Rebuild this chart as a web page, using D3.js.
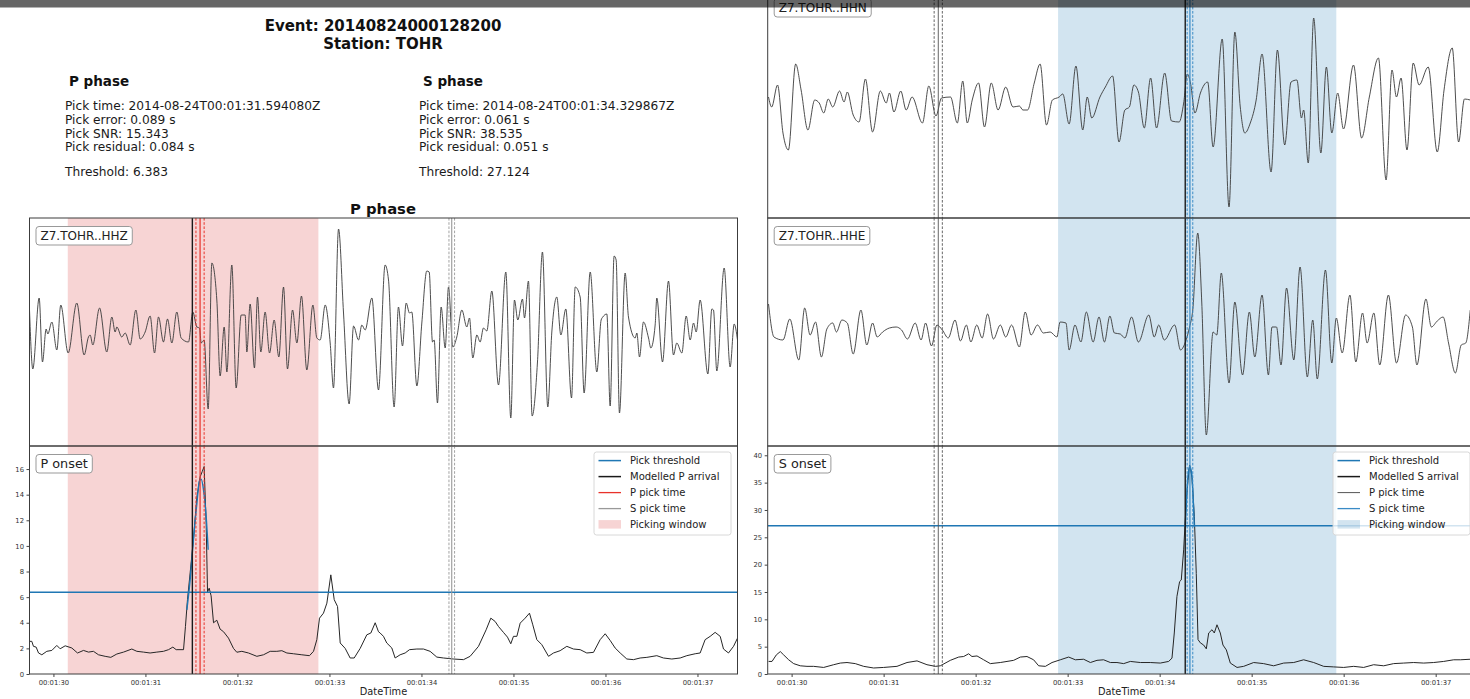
<!DOCTYPE html>
<html>
<head>
<meta charset="utf-8">
<script src="https://cdn.jsdelivr.net/npm/d3@7"></script>
<style>
body { margin: 0; background: #fff; }
text { font-family: "DejaVu Sans", sans-serif; }
</style>
</head>
<body>
<div id="chart"></div>
<script>
// ---- data (times are seconds after 2014-08-24T00:01:30Z) ----
var eventId = "20140824000128200";
var station = "TOHR";
var phaseNames = ["P", "S"];
var pickTimes = [1.594080, 4.329867];
var pickErrors = [0.089, 0.061];
var pickSNR = [15.343, 38.535];
var pickResiduals = [0.084, 0.051];
var thresholds = [6.383, 27.124];
var pickWindows = [[0.156, 2.88], [2.896, 5.92]];
var timeDomain = [-0.26, 7.435];
var channels = ["Z7.TOHR..HHZ", "Z7.TOHR..HHN", "Z7.TOHR..HHE"];
var pOnsetTicks = [0, 2, 4, 6, 8, 10, 12, 14, 16];
var sOnsetTicks = [0, 5, 10, 15, 20, 25, 30, 35, 40];

var hhzTrace = [[-0.26,22],[-0.224,-37],[-0.155,34],[-0.119,-30],[-0.079,3],[-0.061,-2],[-0.017,10],[0.037,-18],[0.08,27],[0.16,-21],[0.254,29],[0.334,-23],[0.381,-5],[0.399,-3],[0.428,-13],[0.501,24],[0.58,-20],[0.635,15],[0.671,0],[0.689,5],[0.743,-5],[0.78,-1],[0.834,-13],[0.896,22],[0.943,-7],[0.997,0],[1.051,16],[1.099,-21],[1.142,15],[1.196,-10],[1.24,13],[1.287,-11],[1.341,20],[1.388,-6],[1.468,-10],[1.515,20],[1.559,5],[1.588,4],[1.606,-11],[1.638,-8],[1.682,-77],[1.722,69],[1.776,32],[1.812,-44],[1.856,5],[1.885,-40],[1.939,67],[1.986,-56],[2.041,17],[2.084,17],[2.102,-20],[2.138,28],[2.185,-36],[2.218,35],[2.254,-20],[2.301,20],[2.349,-21],[2.399,12],[2.45,-25],[2.501,45],[2.544,-37],[2.599,22],[2.646,-11],[2.696,36],[2.754,-38],[2.82,27],[2.863,-6],[2.899,-8],[2.954,27],[3.008,-11],[3.044,-56],[3.099,103],[3.153,19],[3.214,-72],[3.262,6],[3.316,-8],[3.352,7],[3.388,2],[3.461,34],[3.533,-58],[3.605,67],[3.642,52],[3.703,-75],[3.75,25],[3.794,-14],[3.834,29],[3.87,19],[3.895,20],[3.95,-54],[4.004,9],[4.058,61],[4.084,60],[4.12,-10],[4.138,-8],[4.174,-71],[4.214,25],[4.258,-16],[4.294,45],[4.341,-15],[4.384,-5],[4.439,22],[4.493,5],[4.522,14],[4.558,-26],[4.602,-3],[4.638,-10],[4.674,4],[4.71,1],[4.765,41],[4.837,-53],[4.917,60],[4.971,-86],[5.011,32],[5.047,12],[5.098,33],[5.12,14],[5.163,51],[5.203,-84],[5.261,-30],[5.315,80],[5.373,-75],[5.417,0],[5.471,35],[5.515,-3],[5.569,23],[5.631,-66],[5.671,45],[5.725,35],[5.768,-61],[5.834,60],[5.906,-40],[5.953,12],[5.971,15],[6.015,18],[6.051,-74],[6.094,76],[6.116,72],[6.152,-81],[6.214,59],[6.25,15],[6.323,-6],[6.341,-1],[6.37,-25],[6.413,10],[6.468,-6],[6.493,-16],[6.54,7],[6.558,34],[6.62,-30],[6.685,51],[6.739,-23],[6.775,-11],[6.83,-21],[6.877,16],[6.921,-8],[6.957,9],[6.986,0],[7.029,32],[7.113,-42],[7.156,23],[7.174,22],[7.21,-39],[7.29,64],[7.355,-35],[7.399,8],[7.435,-8]];

var hhnTrace = [[-0.251,7],[-0.217,-3],[-0.153,19],[-0.094,-29],[-0.035,-46],[0.044,40],[0.103,14],[0.177,-26],[0.251,4],[0.3,1],[0.349,-9],[0.398,5],[0.447,-3],[0.521,13],[0.57,2],[0.605,12],[0.669,-11],[0.733,-18],[0.802,25],[0.88,-28],[0.964,13],[1.028,1],[1.063,11],[1.112,-8],[1.186,13],[1.245,-6],[1.309,7],[1.422,-19],[1.491,18],[1.569,-12],[1.629,6],[1.727,7],[1.801,-19],[1.86,23],[1.909,-19],[1.963,4],[2.032,21],[2.096,-23],[2.17,21],[2.244,-6],[2.327,17],[2.406,-3],[2.475,-2],[2.514,-6],[2.564,-6],[2.637,21],[2.701,40],[2.77,-21],[2.834,4],[2.908,7],[2.947,10],[3.016,-20],[3.09,38],[3.164,-26],[3.213,7],[3.262,-14],[3.351,7],[3.41,17],[3.489,28],[3.558,-38],[3.622,-6],[3.671,-3],[3.72,19],[3.769,12],[3.833,-24],[3.902,26],[3.966,-24],[4.055,31],[4.129,-17],[4.212,-18],[4.261,1],[4.301,30],[4.335,21],[4.384,-9],[4.443,11],[4.522,22],[4.581,-43],[4.68,65],[4.754,-103],[4.817,72],[4.876,-3],[4.926,-29],[4.985,-19],[5.049,4],[5.113,50],[5.211,-68],[5.28,54],[5.359,-41],[5.428,22],[5.492,24],[5.541,-14],[5.565,-6],[5.615,-59],[5.674,86],[5.752,-49],[5.812,37],[5.871,-29],[5.935,11],[5.998,-25],[6.107,39],[6.195,-34],[6.279,7],[6.378,46],[6.461,-76],[6.525,34],[6.574,7],[6.624,26],[6.688,-46],[6.756,41],[6.82,19],[6.919,37],[7.017,-48],[7.091,14],[7.18,56],[7.249,-38],[7.313,5],[7.376,4]];

var hheTrace = [[-0.251,28],[-0.192,-5],[-0.094,-8],[-0.02,13],[0.078,-28],[0.142,24],[0.201,-3],[0.26,10],[0.324,-25],[0.383,3],[0.447,9],[0.487,0],[0.546,12],[0.605,9],[0.669,-22],[0.753,22],[0.817,-13],[0.88,9],[0.93,-5],[0.989,0],[1.063,4],[1.136,5],[1.195,2],[1.259,-7],[1.343,9],[1.407,-8],[1.456,9],[1.52,-14],[1.579,7],[1.638,2],[1.702,-6],[1.776,12],[1.835,-9],[1.899,7],[1.948,-10],[2.012,7],[2.071,-6],[2.13,18],[2.194,-7],[2.268,7],[2.327,-5],[2.391,7],[2.475,-15],[2.539,20],[2.603,-3],[2.672,7],[2.736,-1],[2.81,0],[2.883,-5],[2.918,10],[2.982,9],[3.016,-18],[3.08,7],[3.144,-10],[3.203,20],[3.277,-10],[3.341,15],[3.4,-10],[3.459,16],[3.508,-1],[3.572,-2],[3.622,-6],[3.695,15],[3.769,-10],[3.882,17],[3.941,-5],[3.99,7],[4.05,-8],[4.163,7],[4.227,-18],[4.276,-11],[4.325,5],[4.36,22],[4.414,99],[4.458,29],[4.507,-103],[4.581,0],[4.621,-3],[4.67,59],[4.754,-51],[4.817,30],[4.901,-43],[4.975,20],[5.034,-25],[5.113,37],[5.182,-43],[5.221,5],[5.27,5],[5.319,-33],[5.379,44],[5.458,-28],[5.526,65],[5.605,-45],[5.664,12],[5.713,-47],[5.802,62],[5.871,-31],[5.92,14],[5.984,-21],[6.068,37],[6.132,-30],[6.205,19],[6.255,-11],[6.328,19],[6.392,-33],[6.486,37],[6.574,-31],[6.673,17],[6.747,5],[6.796,-33],[6.894,33],[6.953,5],[7.017,11],[7.081,15],[7.14,-11],[7.214,-41],[7.278,-13],[7.327,-11],[7.376,22]];

var pOnset = [[-0.26,2.55],[-0.235,2.55],[-0.217,2.16],[-0.188,2.1],[-0.162,1.64],[-0.126,1.5],[-0.072,1.77],[-0.017,1.84],[0.037,2.23],[0.073,1.97],[0.128,2.2],[0.2,2.03],[0.262,1.64],[0.327,1.84],[0.381,1.71],[0.435,1.77],[0.49,1.5],[0.562,1.38],[0.624,1.3],[0.689,1.56],[0.762,1.71],[0.852,1.95],[0.907,1.77],[0.979,1.71],[1.051,1.64],[1.124,1.71],[1.196,1.77],[1.251,1.9],[1.298,2.1],[1.334,1.9],[1.414,1.9],[1.435,3.7],[1.457,5.8],[1.486,7.9],[1.522,10.5],[1.559,13.8],[1.595,15.4],[1.617,15.8],[1.638,16.2],[1.66,11.8],[1.675,6.4],[1.693,6.7],[1.714,6.1],[1.74,4.0],[1.776,4.2],[1.812,3.5],[1.849,3.3],[1.903,2.8],[1.957,2.0],[1.993,1.7],[2.048,1.77],[2.12,1.64],[2.211,1.38],[2.283,1.5],[2.356,1.77],[2.428,1.77],[2.483,1.82],[2.537,1.64],[2.609,1.58],[2.7,1.5],[2.783,1.43],[2.827,1.77],[2.863,2.68],[2.892,4.36],[2.935,4.75],[2.972,5.53],[3.015,7.74],[3.052,5.8],[3.088,5.27],[3.117,2.42],[3.171,2.0],[3.225,1.25],[3.269,1.25],[3.334,2.0],[3.406,3.06],[3.45,3.2],[3.497,4.0],[3.533,3.3],[3.551,3.2],[3.587,2.94],[3.623,2.42],[3.678,2.03],[3.714,1.25],[3.768,1.5],[3.823,1.64],[3.87,1.9],[3.95,1.95],[4.022,1.95],[4.094,1.77],[4.167,1.32],[4.239,1.25],[4.348,1.17],[4.457,1.12],[4.529,1.38],[4.62,2.16],[4.703,3.45],[4.754,4.36],[4.801,4.1],[4.837,3.71],[4.891,3.25],[4.935,2.88],[4.971,2.36],[5.0,2.94],[5.037,2.94],[5.073,3.97],[5.127,4.36],[5.174,4.75],[5.21,3.84],[5.254,2.68],[5.308,2.29],[5.381,1.38],[5.435,1.64],[5.507,1.82],[5.58,2.16],[5.652,1.95],[5.725,1.9],[5.797,1.64],[5.87,1.69],[5.942,2.68],[5.997,3.14],[6.051,2.62],[6.105,2.03],[6.16,1.64],[6.232,1.17],[6.305,1.12],[6.377,1.25],[6.45,1.3],[6.558,1.43],[6.63,1.25],[6.721,1.17],[6.812,1.25],[6.884,1.43],[6.975,1.58],[7.029,1.64],[7.083,2.68],[7.138,2.94],[7.192,3.25],[7.247,2.94],[7.283,1.95],[7.337,1.64],[7.392,2.16],[7.435,2.8]];

var sOnset = [[-0.25,2.3],[-0.213,2.3],[-0.166,3.5],[-0.123,4.1],[-0.087,3.5],[-0.032,2.6],[0.022,1.9],[0.094,1.5],[0.167,1.4],[0.239,1.4],[0.348,1.2],[0.457,1.7],[0.529,2.0],[0.602,2.1],[0.692,1.9],[0.783,1.4],[0.891,1.1],[1.0,1.2],[1.145,1.4],[1.254,2.1],[1.363,2.4],[1.471,1.7],[1.562,1.4],[1.616,1.5],[1.725,2.5],[1.816,3.1],[1.87,3.2],[1.924,3.7],[1.96,3.2],[2.015,3.3],[2.087,2.6],[2.16,1.9],[2.268,2.1],[2.341,2.3],[2.413,2.5],[2.486,3.1],[2.558,3.2],[2.63,2.6],[2.685,1.5],[2.758,1.4],[2.83,2.1],[2.92,2.6],[3.011,3.1],[3.084,2.6],[3.174,2.7],[3.247,2.1],[3.319,2.5],[3.391,2.6],[3.464,2.1],[3.536,2.1],[3.609,1.9],[3.681,2.3],[3.79,2.1],[3.898,2.1],[4.007,2.0],[4.098,2.3],[4.134,2.9],[4.159,7.5],[4.188,14.2],[4.217,16.9],[4.235,17.2],[4.261,22.7],[4.286,30.6],[4.308,35.4],[4.326,38.2],[4.351,36.0],[4.377,28.8],[4.398,18.4],[4.417,6.3],[4.442,5.7],[4.478,5.3],[4.507,4.6],[4.533,7.5],[4.569,8.1],[4.594,7.5],[4.623,9.0],[4.659,7.5],[4.688,5.3],[4.725,4.4],[4.768,2.0],[4.841,1.2],[4.913,1.4],[5.022,2.1],[5.13,1.9],[5.239,1.5],[5.348,2.0],[5.457,2.1],[5.565,2.6],[5.674,2.1],[5.783,1.4],[5.891,1.3],[6.0,1.2],[6.109,1.4],[6.217,1.2],[6.326,1.7],[6.435,1.5],[6.543,1.9],[6.652,2.0],[6.761,2.1],[6.87,2.0],[6.978,2.1],[7.087,2.3],[7.196,2.6],[7.268,2.6],[7.377,2.7],[7.435,2.8]];

var pGaussFit = [[1.45,5.0],[1.486,7.35],[1.522,10.5],[1.559,13.3],[1.588,15.1],[1.606,15.2],[1.631,14.4],[1.66,12.3],[1.682,9.7]];
var sGaussFit = [[4.279,26.9],[4.304,35.4],[4.326,38.0],[4.348,36.7],[4.377,26.9]];

// ---- setup ----
var W = 1470, H = 699;
var svg = d3.select("#chart").append("svg")
    .attr("width", W)
    .attr("height", H);

var base = Date.UTC(2014, 7, 24, 0, 1, 30);
function toDate(s) { return new Date(base + s * 1000); }
var tickFmt = d3.utcFormat("%H:%M:%S");

var blue = "#1f77b4", red = "#e8322a";
// colours per phase: window, own pick, other phase's pick
var phaseStyle = {
    P: {win: "#d62728", pick: red, other: "#999", otherW: 1.1},
    S: {win: blue, pick: "#3a8bc6", other: "#555", otherW: 0.9}
};

var cols = {
    left: {x0: 29.5, x1: 737.5},
    right: {x0: 767.7, x1: 1475.7}
};

var panels = [
    {col: "left", top: 218, bottom: 446, kind: "wave", trace: hhzTrace, label: channels[0], phase: 0},
    {col: "left", top: 446, bottom: 674, kind: "onset", trace: pOnset, fit: pGaussFit, ticks: pOnsetTicks, ymax: 17.8, label: "P onset", phase: 0},
    {col: "right", top: -10, bottom: 218, kind: "wave", trace: hhnTrace, label: channels[1], phase: 1},
    {col: "right", top: 218, bottom: 446, kind: "wave", trace: hheTrace, label: channels[2], phase: 1},
    {col: "right", top: 446, bottom: 674, kind: "onset", trace: sOnset, fit: sGaussFit, ticks: sOnsetTicks, ymax: 41.7, label: "S onset", phase: 1}
];

function vline(g, x, t, top, bottom, color, width, dash) {
    g.append("line")
        .attr("x1", x(toDate(t))).attr("x2", x(toDate(t)))
        .attr("y1", top).attr("y2", bottom)
        .attr("stroke", color).attr("stroke-width", width)
        .attr("stroke-dasharray", dash ? "2.6,1.6" : null);
}

function labelBox(x, y, txt, size) {
    var g = svg.append("g");
    var r = g.append("rect");
    var t = g.append("text").attr("x", x + 4.5).attr("y", y + 13.6)
        .attr("font-size", size).attr("fill", "#222").text(txt);
    var w = t.node().getComputedTextLength();
    r.attr("x", x).attr("y", y).attr("width", w + 9).attr("height", 18.5)
        .attr("rx", 3).attr("fill", "#fff").attr("stroke", "#999").attr("stroke-width", 1);
}

panels.forEach(function(p, i) {
    var c = cols[p.col];
    var ph = phaseNames[p.phase];
    var other = 1 - p.phase;
    var st = phaseStyle[ph];
    var x = d3.scaleUtc().domain(timeDomain.map(toDate)).range([c.x0, c.x1]);
    var y = p.kind === "wave"
        ? d3.scaleLinear().domain([-114, 114]).range([p.bottom, p.top])
        : d3.scaleLinear().domain([0, p.ymax]).range([p.bottom, p.top]);

    svg.append("clipPath").attr("id", "clip" + i)
        .append("rect").attr("x", c.x0).attr("y", p.top)
        .attr("width", c.x1 - c.x0).attr("height", p.bottom - p.top);
    var g = svg.append("g").attr("clip-path", "url(#clip" + i + ")");

    // picking window
    var win = pickWindows[p.phase];
    g.append("rect")
        .attr("x", x(toDate(win[0])))
        .attr("width", x(toDate(win[1])) - x(toDate(win[0])))
        .attr("y", p.top).attr("height", p.bottom - p.top)
        .attr("fill", st.win).attr("fill-opacity", 0.2);

    var line = d3.line()
        .x(function(d) { return x(toDate(d[0])); })
        .y(function(d) { return y(d[1]); });

    g.append("path").datum(p.trace)
        .attr("d", p.kind === "wave" ? line.curve(d3.curveMonotoneX)(p.trace) : line(p.trace))
        .attr("fill", "none")
        .attr("stroke", p.kind === "wave" ? "#3a3a3a" : "#262626")
        .attr("stroke-width", p.kind === "wave" ? 0.9 : 1)
        .attr("stroke-linejoin", "round");

    if (p.kind === "onset") {
        g.append("path").datum(p.fit)
            .attr("d", line.curve(d3.curveMonotoneX))
            .attr("fill", "none").attr("stroke", blue).attr("stroke-width", 1.4);
        g.append("line")
            .attr("x1", c.x0).attr("x2", c.x1)
            .attr("y1", y(thresholds[p.phase])).attr("y2", y(thresholds[p.phase]))
            .attr("stroke", blue).attr("stroke-width", 1.4);
    }

    // other phase's pick
    var to = pickTimes[other], eo = pickErrors[other] / 2;
    vline(g, x, to - eo, p.top, p.bottom, st.other, 0.9, true);
    vline(g, x, to + eo, p.top, p.bottom, st.other, 0.9, true);
    vline(g, x, to, p.top, p.bottom, st.other, st.otherW, false);

    // modelled arrival and own pick
    var tp = pickTimes[p.phase], ep = pickErrors[p.phase] / 2;
    vline(g, x, tp - pickResiduals[p.phase], p.top, p.bottom, "#1a1a1a", 1.4, false);
    vline(g, x, tp - ep, p.top, p.bottom, st.pick, 1, true);
    vline(g, x, tp + ep, p.top, p.bottom, st.pick, 1, true);
    vline(g, x, tp, p.top, p.bottom, st.pick, 1.2, false);

    // frame
    svg.append("rect")
        .attr("x", c.x0).attr("y", p.top)
        .attr("width", c.x1 - c.x0).attr("height", p.bottom - p.top)
        .attr("fill", "none").attr("stroke", "#3c3c3c").attr("stroke-width", 1);

    if (p.kind === "onset") {
        var ya = svg.append("g").attr("transform", "translate(" + c.x0 + ",0)")
            .call(d3.axisLeft(y).tickValues(p.ticks).tickSize(3).tickPadding(2.5));
        var xa = svg.append("g").attr("transform", "translate(0," + p.bottom + ")")
            .call(d3.axisBottom(x).ticks(d3.utcSecond.every(1)).tickFormat(tickFmt).tickSize(3).tickPadding(3));
        [ya, xa].forEach(function(a) {
            a.select(".domain").remove();
            a.selectAll("text").attr("font-size", 6.8).attr("fill", "#333")
                .attr("font-family", "DejaVu Sans");
            a.selectAll("line").attr("stroke", "#444");
        });
        svg.append("text")
            .attr("x", (c.x0 + c.x1) / 2).attr("y", 694.5)
            .attr("text-anchor", "middle").attr("font-size", 9.8).attr("fill", "#222")
            .text("DateTime");
    }

    labelBox(c.x0 + 6.5, p.top + 8.5, p.label, p.kind === "wave" ? 12 : 12.8);
});

// ---- legends ----
function legend(x0, y0, phaseIdx) {
    var ph = phaseNames[phaseIdx];
    var st = phaseStyle[ph];
    var entries = [
        {label: "Pick threshold", color: blue, w: 1.5},
        {label: "Modelled " + ph + " arrival", color: "#1a1a1a", w: 1.5},
        {label: "P pick time", color: phaseIdx === 0 ? st.pick : st.other, w: phaseIdx === 0 ? 1.3 : 1},
        {label: "S pick time", color: phaseIdx === 1 ? st.pick : st.other, w: 1.3},
        {label: "Picking window", color: st.win, patch: true}
    ];
    var g = svg.append("g").attr("transform", "translate(" + x0 + "," + y0 + ")");
    g.append("rect").attr("width", 137).attr("height", 83).attr("rx", 2.5)
        .attr("fill", "#fff").attr("fill-opacity", 0.8)
        .attr("stroke", "#d4d4d4").attr("stroke-width", 0.9);
    entries.forEach(function(e, i) {
        var cy = 8.6 + i * 16;
        if (e.patch) {
            g.append("rect").attr("x", 4.5).attr("y", cy - 4.5).attr("width", 22.5).attr("height", 8.5)
                .attr("fill", e.color).attr("fill-opacity", 0.2);
        } else {
            g.append("line").attr("x1", 4.5).attr("x2", 27).attr("y1", cy).attr("y2", cy)
                .attr("stroke", e.color).attr("stroke-width", e.w);
        }
        g.append("text").attr("x", 36).attr("y", cy + 3.6)
            .attr("font-size", 10).attr("fill", "#222").text(e.label);
    });
}
legend(594, 452, 0);
legend(1333, 452, 1);

// ---- header text ----
svg.append("text").attr("x", 383).attr("y", 30.5).attr("text-anchor", "middle")
    .attr("font-size", 15).attr("font-weight", "bold").attr("fill", "#111")
    .text("Event: " + eventId);
svg.append("text").attr("x", 383).attr("y", 48.5).attr("text-anchor", "middle")
    .attr("font-size", 15).attr("font-weight", "bold").attr("fill", "#111")
    .text("Station: " + station);

var headerX = [65, 419];
phaseNames.forEach(function(ph, i) {
    svg.append("text").attr("x", headerX[i] + 4).attr("y", 86)
        .attr("font-size", 13.5).attr("font-weight", "bold").attr("fill", "#111")
        .text(ph + " phase");
    var lines = [
        "Pick time: 2014-08-24T00:01:" + (30 + pickTimes[i]).toFixed(6) + "Z",
        "Pick error: " + pickErrors[i].toFixed(3) + " s",
        "Pick SNR: " + pickSNR[i].toFixed(3),
        "Pick residual: " + pickResiduals[i].toFixed(3) + " s"
    ];
    lines.forEach(function(l, j) {
        svg.append("text").attr("x", headerX[i]).attr("y", 110 + j * 13.8)
            .attr("font-size", 12.2).attr("fill", "#1a1a1a").text(l);
    });
    svg.append("text").attr("x", headerX[i]).attr("y", 175.5)
        .attr("font-size", 12.2).attr("fill", "#1a1a1a")
        .text("Threshold: " + thresholds[i].toFixed(3));
});

svg.append("text").attr("x", 383).attr("y", 214).attr("text-anchor", "middle")
    .attr("font-size", 14.8).attr("font-weight", "bold").attr("fill", "#111")
    .text("P phase");

// dark strip across the top of the screenshot
svg.append("rect").attr("x", 0).attr("y", 0).attr("width", W).attr("height", 7.5)
    .attr("fill", "#000").attr("fill-opacity", 0.6);
</script>
</body>
</html>
